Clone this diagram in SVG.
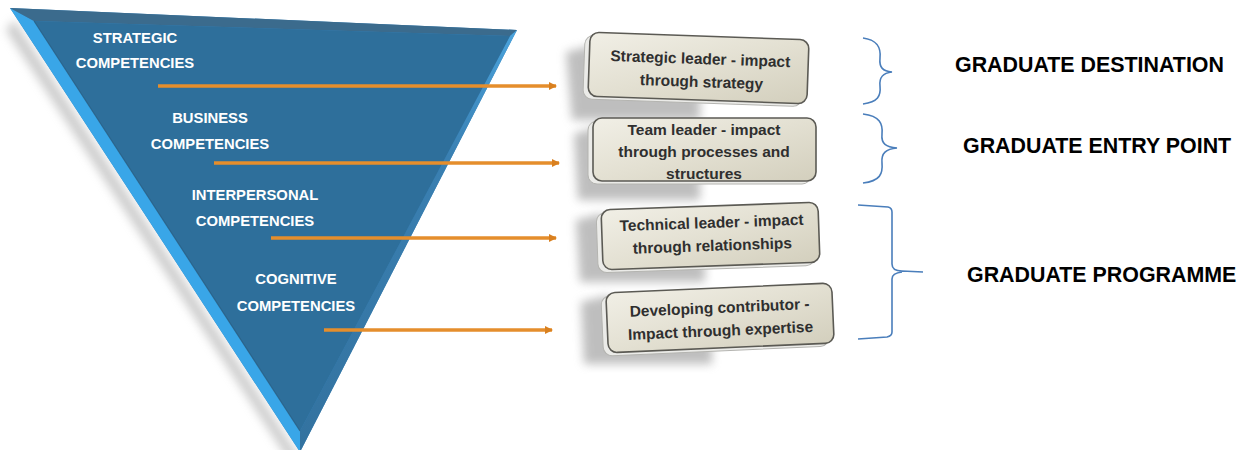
<svg xmlns="http://www.w3.org/2000/svg" width="1251" height="450" viewBox="0 0 1251 450">
  <defs>
    <filter id="blur6" x="-30%" y="-30%" width="160%" height="160%"><feGaussianBlur stdDeviation="5"/></filter>
    <filter id="blur2" x="-10%" y="-200%" width="120%" height="500%"><feGaussianBlur stdDeviation="1.6"/></filter>
    <linearGradient id="boxFill" x1="0" y1="0" x2="1" y2="1">
      <stop offset="0" stop-color="#f1efe6"/>
      <stop offset="0.5" stop-color="#e3e0d2"/>
      <stop offset="1" stop-color="#d3cfbd"/>
    </linearGradient>
    <linearGradient id="rightBevel" x1="0" y1="0" x2="0" y2="1">
      <stop offset="0" stop-color="#4aa3dc"/>
      <stop offset="0.3" stop-color="#3a80b2"/>
      <stop offset="1" stop-color="#33729f"/>
    </linearGradient>
    <marker id="arrow" viewBox="0 0 8 8" refX="7" refY="4" markerWidth="8" markerHeight="8" markerUnits="userSpaceOnUse" orient="auto">
      <path d="M0,0 L8,4 L0,8 Z" fill="#d9801f"/>
    </marker>
    <style>
      .tri { font-family: "Liberation Sans", Arial, sans-serif; font-weight: bold; font-size: 14.8px; fill: #ffffff; text-anchor: middle; }
      .box { fill: url(#boxFill); stroke: #5b5a54; stroke-width: 1.6; }
      .boxExt { fill: #ebebe8; stroke: #b4b4b0; stroke-width: 1; }
      .btxt { font-family: "Liberation Sans", Arial, sans-serif; font-weight: bold; font-size: 15.5px; fill: #2f2f2f; text-anchor: middle; }
      .shadow { fill: #8a8a8a; opacity: 0.55; }
      .conn { stroke: #e58e2c; stroke-width: 3.5; fill: none; }
      .connShadow { stroke: #9a9a9a; stroke-width: 3; fill: none; opacity: 0.6; }
      .brace { stroke: #4a7ebb; stroke-width: 1.6; fill: none; }
      .lbl { font-family: "Liberation Sans", Arial, sans-serif; font-weight: bold; font-size: 21.4px; fill: #000000; }
    </style>
  </defs>

  <!-- Pyramid (inverted triangle) -->
  <g id="pyramid">
    <polygon points="14,20 300,458 290,462 6,30" fill="#9a9a9a" opacity="0.5" filter="url(#blur6)"/>
    <polygon points="10,8 517,30 300,452" fill="#3a86bf"/>
    <polygon points="10,8 34,21 300,431 300,452" fill="#39a6e8"/>
    <polygon points="10,8 517,30 510,36 34,21" fill="#3b6b8d"/>
    <polygon points="517,30 300,452 300,431 510,36" fill="url(#rightBevel)"/>
    <polygon points="34,21 510,36 300,431" fill="#2e6f9b"/>
    <polyline points="34,21 300,431" stroke="#2a5b7e" stroke-width="1.2" fill="none" opacity="0.7"/>
    <text class="tri" x="135" y="43">STRATEGIC</text>
    <text class="tri" x="135" y="68">COMPETENCIES</text>
    <text class="tri" x="210" y="123">BUSINESS</text>
    <text class="tri" x="210" y="149">COMPETENCIES</text>
    <text class="tri" x="255" y="200">INTERPERSONAL</text>
    <text class="tri" x="255" y="226">COMPETENCIES</text>
    <text class="tri" x="296" y="284">COGNITIVE</text>
    <text class="tri" x="296" y="311">COMPETENCIES</text>
  </g>

  <!-- Connectors -->
  <g id="connectors">
    <line class="connShadow" x1="160" y1="92" x2="552" y2="92" filter="url(#blur2)"/>
    <line class="connShadow" x1="216" y1="169" x2="555" y2="169" filter="url(#blur2)"/>
    <line class="connShadow" x1="273" y1="244" x2="552" y2="244" filter="url(#blur2)"/>
    <line class="connShadow" x1="326" y1="336" x2="548" y2="336" filter="url(#blur2)"/>
    <line class="conn" x1="158" y1="86" x2="556" y2="86" marker-end="url(#arrow)"/>
    <line class="conn" x1="214" y1="163" x2="559" y2="163" marker-end="url(#arrow)"/>
    <line class="conn" x1="271" y1="238" x2="556" y2="238" marker-end="url(#arrow)"/>
    <line class="conn" x1="324" y1="330" x2="552" y2="330" marker-end="url(#arrow)"/>
  </g>

  <!-- Box 1 -->
  <g id="box1">
    <polygon class="shadow" points="566,52 590,46 700,96 700,120 572,120" filter="url(#blur6)"/>
    <g transform="rotate(2 698 68)">
      <rect class="boxExt" x="584" y="39" width="219" height="64" rx="9"/>
      <rect class="box" x="589" y="36" width="219" height="64" rx="9"/>
      <text class="btxt" x="700" y="64">Strategic leader - impact</text>
      <text class="btxt" x="702" y="87">through strategy</text>
    </g>
  </g>

  <!-- Box 2 -->
  <g id="box2">
    <polygon class="shadow" points="574,134 594,128 700,176 700,200 578,200" filter="url(#blur6)"/>
    <g>
      <rect class="boxExt" x="588" y="121" width="223" height="63" rx="9"/>
      <rect class="box" x="593" y="118" width="223" height="63" rx="9"/>
      <text class="btxt" x="704" y="135">Team leader - impact</text>
      <text class="btxt" x="704" y="157">through processes and</text>
      <text class="btxt" x="704" y="179">structures</text>
    </g>
  </g>

  <!-- Box 3 -->
  <g id="box3">
    <polygon class="shadow" points="576,220 600,214 705,262 705,282 580,282" filter="url(#blur6)"/>
    <g transform="rotate(-2 710 236)">
      <rect class="boxExt" x="597" y="209" width="217" height="60" rx="9"/>
      <rect class="box" x="602" y="206" width="217" height="60" rx="9"/>
      <text class="btxt" x="712" y="228">Technical leader - impact</text>
      <text class="btxt" x="712" y="251">through relationships</text>
    </g>
  </g>

  <!-- Box 4 -->
  <g id="box4">
    <polygon class="shadow" points="581,302 606,296 712,345 712,364 584,364" filter="url(#blur6)"/>
    <g transform="rotate(-2.5 718 318)">
      <rect class="boxExt" x="602" y="291" width="226" height="60" rx="9"/>
      <rect class="box" x="607" y="288" width="226" height="60" rx="9"/>
      <text class="btxt" x="720" y="313">Developing contributor -</text>
      <text class="btxt" x="720" y="336">Impact through expertise</text>
    </g>
  </g>

  <!-- Braces -->
  <g id="brace1">
    <path class="brace" d="M863,38 C878,40 881,48 880,58 C879,68 883,71 892,72 C883,73 879,77 880,86 C881,96 878,102 863,104"/>
  </g>
  <g id="brace2">
    <path class="brace" d="M863,114 C880,116 883,124 882,134 C881,144 886,147 897,148 C886,149 881,153 882,163 C883,174 880,181 863,183"/>
  </g>
  <g id="brace3">
    <path class="brace" d="M858,205 L888,207 Q892,208 892,212 L892,264 Q892,271 902,271 L923,272 M902,272 Q892,273 892,279 L892,332 Q892,336 887,337 L858,339"/>
  </g>

  <!-- Labels -->
  <g id="label1"><text class="lbl" x="955" y="72">GRADUATE DESTINATION</text></g>
  <g id="label2"><text class="lbl" x="963" y="153">GRADUATE ENTRY POINT</text></g>
  <g id="label3"><text class="lbl" x="967" y="282">GRADUATE PROGRAMME</text></g>
</svg>
